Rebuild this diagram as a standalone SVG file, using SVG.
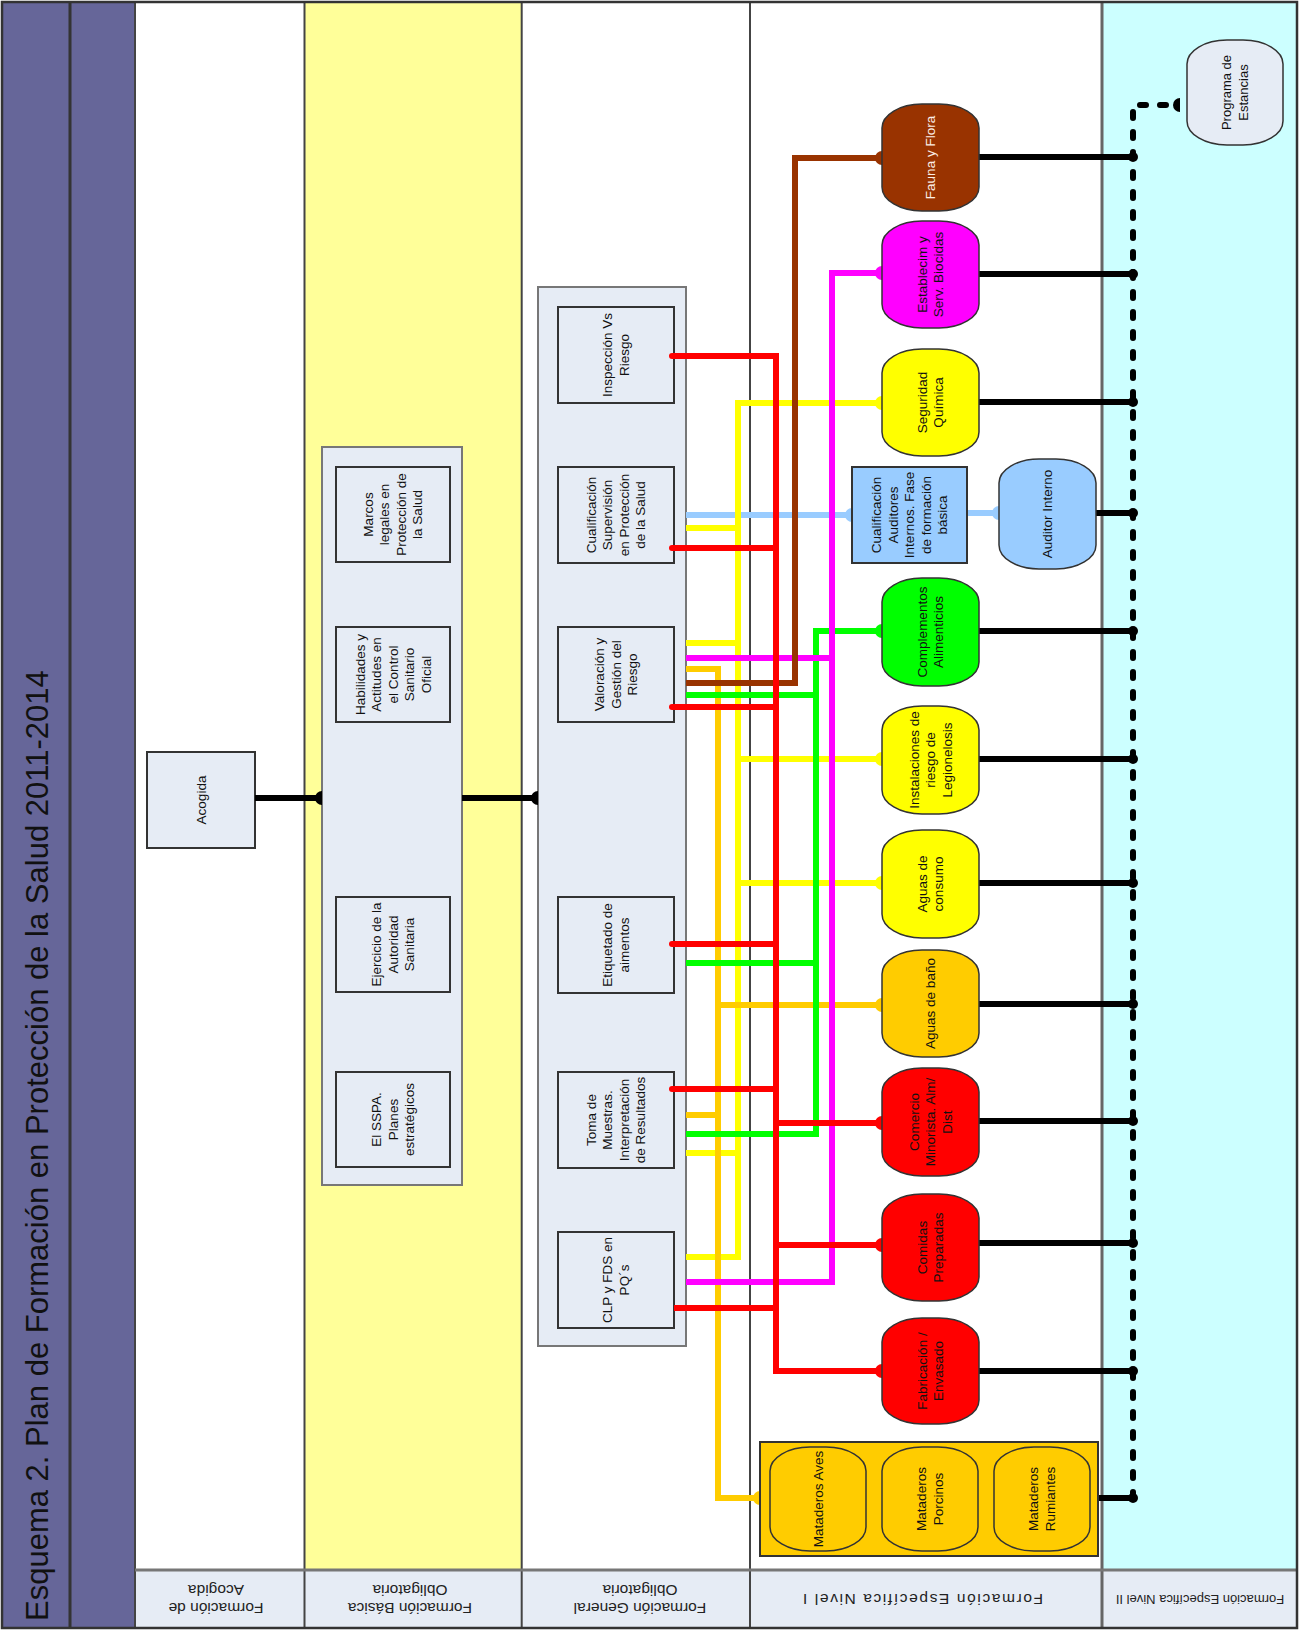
<svg xmlns="http://www.w3.org/2000/svg" width="1299" height="1630" viewBox="0 0 1299 1630">
<style>
text{font-family:"Liberation Sans",Arial,sans-serif;font-size:13.5px;fill:#111;text-anchor:middle}
.hdr{font-size:15.5px;fill:#222}
.box{fill:#E6ECF5;stroke:#333;stroke-width:2}
.cont{fill:#E6ECF5;stroke:#777;stroke-width:2}
.node{stroke:#333;stroke-width:1.5}
.c{fill:none;stroke-width:6;stroke-linejoin:miter}
.k{stroke:#000}.r{stroke:#f00}.y{stroke:#ff0}.o{stroke:#fc0}.g{stroke:#0f0}.m{stroke:#f0f}.b{stroke:#930}.lb{stroke:#9cf}
.dash{stroke-dasharray:6 14;stroke-linecap:round}
.lane{stroke:#444;stroke-width:2}
</style>
<defs>
<marker id="dk" markerUnits="userSpaceOnUse" markerWidth="16" markerHeight="16" refX="8" refY="8" orient="auto" viewBox="0 0 16 16"><path d="M8,1A7,7 0 0 0 8,15Z" fill="#000"/></marker>
<marker id="dr" markerUnits="userSpaceOnUse" markerWidth="16" markerHeight="16" refX="8" refY="8" orient="auto" viewBox="0 0 16 16"><path d="M8,1A7,7 0 0 0 8,15Z" fill="#f00"/></marker>
<marker id="dy" markerUnits="userSpaceOnUse" markerWidth="16" markerHeight="16" refX="8" refY="8" orient="auto" viewBox="0 0 16 16"><path d="M8,1A7,7 0 0 0 8,15Z" fill="#ff0"/></marker>
<marker id="do" markerUnits="userSpaceOnUse" markerWidth="16" markerHeight="16" refX="8" refY="8" orient="auto" viewBox="0 0 16 16"><path d="M8,1A7,7 0 0 0 8,15Z" fill="#fc0"/></marker>
<marker id="dg" markerUnits="userSpaceOnUse" markerWidth="16" markerHeight="16" refX="8" refY="8" orient="auto" viewBox="0 0 16 16"><path d="M8,1A7,7 0 0 0 8,15Z" fill="#0f0"/></marker>
<marker id="dm" markerUnits="userSpaceOnUse" markerWidth="16" markerHeight="16" refX="8" refY="8" orient="auto" viewBox="0 0 16 16"><path d="M8,1A7,7 0 0 0 8,15Z" fill="#f0f"/></marker>
<marker id="db" markerUnits="userSpaceOnUse" markerWidth="16" markerHeight="16" refX="8" refY="8" orient="auto" viewBox="0 0 16 16"><path d="M8,1A7,7 0 0 0 8,15Z" fill="#930"/></marker>
<marker id="dl" markerUnits="userSpaceOnUse" markerWidth="16" markerHeight="16" refX="8" refY="8" orient="auto" viewBox="0 0 16 16"><path d="M8,1A7,7 0 0 0 8,15Z" fill="#9cf"/></marker>
<marker id="kd" markerUnits="userSpaceOnUse" markerWidth="12" markerHeight="12" refX="6" refY="6" orient="auto" viewBox="0 0 12 12"><circle cx="6" cy="6" r="5" fill="#000"/></marker>
</defs>

<!-- background and lanes -->
<rect x="0" y="0" width="1299" height="1630" fill="#fff"/>
<rect x="3" y="3" width="132" height="1625" fill="#666699"/>
<rect x="304.5" y="3" width="217.2" height="1567" fill="#FFFF99"/>
<rect x="1102" y="3" width="195" height="1567" fill="#CCFFFF"/>
<rect x="135" y="1570" width="1162" height="58" fill="#E6ECF5"/>
<line class="lane" x1="70" y1="3" x2="70" y2="1628" style="stroke-width:3;stroke:#333"/>
<line class="lane" x1="135" y1="3" x2="135" y2="1628"/>
<line class="lane" x1="304.5" y1="3" x2="304.5" y2="1628"/>
<line class="lane" x1="521.7" y1="3" x2="521.7" y2="1628"/>
<line class="lane" x1="750" y1="3" x2="750" y2="1628"/>
<line class="lane" x1="1102" y1="3" x2="1102" y2="1628" style="stroke:#666;stroke-width:3"/>
<line class="lane" x1="135" y1="1570" x2="1297" y2="1570" style="stroke:#777;stroke-width:3"/>
<rect x="2" y="2" width="1295" height="1626" fill="none" stroke="#333" stroke-width="2.5"/>

<text transform="translate(48,1621) rotate(-90)" style="font-size:31px;text-anchor:start;fill:#111">Esquema 2. Plan de Formación en Protección de la Salud 2011-2014</text>

<!-- lane headers (upside down) -->
<text class="hdr" transform="translate(216,1599) rotate(180)"><tspan x="0" y="-4">Formación de</tspan><tspan x="0" y="14">Acogida</tspan></text>
<text class="hdr" transform="translate(410,1599) rotate(180)"><tspan x="0" y="-4">Formación Básica</tspan><tspan x="0" y="14">Obligatoria</tspan></text>
<text class="hdr" transform="translate(640,1599) rotate(180)"><tspan x="0" y="-4">Formación General</tspan><tspan x="0" y="14">Obligatoria</tspan></text>
<text class="hdr" transform="translate(923,1599) rotate(180)"><tspan x="0" y="5" textLength="240" lengthAdjust="spacing">Formación Específica Nivel I</tspan></text>
<text class="hdr" transform="translate(1200,1599) rotate(180)" style="font-size:13px"><tspan x="0" y="4">Formación Específica Nivel II</tspan></text>

<!-- Acogida -->
<g id="acogida"><rect class="box" x="147" y="752" width="108" height="96"/><text transform="translate(201,800) rotate(-90)"><tspan x="0" y="4.7">Acogida</tspan></text></g>

<!-- Formación Básica -->
<g id="basica"><rect class="cont" x="322" y="447" width="140" height="738"/></g>
<g id="marcos"><rect class="box" x="336" y="467" width="114" height="95"/><text transform="translate(393,514.5) rotate(-90)"><tspan x="0" y="-20.05">Marcos</tspan><tspan x="0" y="-3.55">legales en</tspan><tspan x="0" y="12.95">Protección de</tspan><tspan x="0" y="29.45">la Salud</tspan></text></g>
<g id="habilidades"><rect class="box" x="336" y="627" width="114" height="95"/><text transform="translate(393,674.5) rotate(-90)"><tspan x="0" y="-28.3">Habilidades y</tspan><tspan x="0" y="-11.8">Actitudes en</tspan><tspan x="0" y="4.7">el Control</tspan><tspan x="0" y="21.2">Sanitario</tspan><tspan x="0" y="37.7">Oficial</tspan></text></g>
<g id="ejercicio"><rect class="box" x="336" y="897" width="114" height="95"/><text transform="translate(393,944.5) rotate(-90)"><tspan x="0" y="-11.8">Ejercicio de la</tspan><tspan x="0" y="4.7">Autoridad</tspan><tspan x="0" y="21.2">Sanitaria</tspan></text></g>
<g id="sspa"><rect class="box" x="336" y="1072" width="114" height="95"/><text transform="translate(393,1119.5) rotate(-90)"><tspan x="0" y="-11.8">El SSPA.</tspan><tspan x="0" y="4.7">Planes</tspan><tspan x="0" y="21.2">estratégicos</tspan></text></g>

<!-- Formación General -->
<g id="general"><rect class="cont" x="538" y="287" width="148" height="1059"/></g>
<g id="inspeccion"><rect class="box" x="558" y="307" width="116" height="96"/><text transform="translate(616,355) rotate(-90)"><tspan x="0" y="-3.55">Inspección Vs</tspan><tspan x="0" y="12.95">Riesgo</tspan></text></g>
<g id="cualificacion"><rect class="box" x="558" y="467" width="116" height="96"/><text transform="translate(616,515) rotate(-90)"><tspan x="0" y="-20.05">Cualificación</tspan><tspan x="0" y="-3.55">Supervisión</tspan><tspan x="0" y="12.95">en Protección</tspan><tspan x="0" y="29.45">de la Salud</tspan></text></g>
<g id="valoracion"><rect class="box" x="558" y="627" width="116" height="95"/><text transform="translate(616,674.5) rotate(-90)"><tspan x="0" y="-11.8">Valoración y</tspan><tspan x="0" y="4.7">Gestión del</tspan><tspan x="0" y="21.2">Riesgo</tspan></text></g>
<g id="etiquetado"><rect class="box" x="558" y="897" width="116" height="96"/><text transform="translate(616,945) rotate(-90)"><tspan x="0" y="-3.55">Etiquetado de</tspan><tspan x="0" y="12.95">aimentos</tspan></text></g>
<g id="toma"><rect class="box" x="558" y="1072" width="116" height="96"/><text transform="translate(616,1120) rotate(-90)"><tspan x="0" y="-20.05">Toma de</tspan><tspan x="0" y="-3.55">Muestras.</tspan><tspan x="0" y="12.95">Interpretación</tspan><tspan x="0" y="29.45">de Resultados</tspan></text></g>
<g id="clp"><rect class="box" x="558" y="1232" width="116" height="96"/><text transform="translate(616,1280) rotate(-90)"><tspan x="0" y="-3.55">CLP y FDS en</tspan><tspan x="0" y="12.95">PQ´s</tspan></text></g>

<!-- connectors -->
<g id="connectors">
<path class="c k" d="M255,798H322" marker-end="url(#dk)"/>
<path class="c k" d="M462,798H538" marker-end="url(#dk)"/>
<path class="c lb" d="M686,515H852" marker-end="url(#dl)"/>
<path class="c lb" d="M967,513H999" marker-end="url(#dl)"/>
<path class="c y" d="M686,1257H738V403H882" marker-end="url(#dy)"/>
<path class="c y" d="M686,528H738"/>
<path class="c y" d="M686,643H738"/>
<path class="c y" d="M686,1153H738"/>
<path class="c y" d="M738,759H882" marker-end="url(#dy)"/>
<path class="c y" d="M738,883H882" marker-end="url(#dy)"/>
<path class="c o" d="M686,669H718V1498H760" marker-end="url(#do)"/>
<path class="c o" d="M686,1115H718"/>
<path class="c o" d="M718,1005H882" marker-end="url(#do)"/>
<path class="c g" d="M686,1134H816V631H882" marker-end="url(#dg)"/>
<path class="c g" d="M686,695H816"/>
<path class="c g" d="M686,963H816"/>
<path class="c m" d="M686,1282H832V273H882" marker-end="url(#dm)"/>
<path class="c m" d="M686,658H832"/>
<path class="c b" d="M686,683H795V158H882" marker-end="url(#db)"/>
<path class="c r" d="M672,356H776V1371H882" marker-end="url(#dr)" style="stroke-linecap:round"/>
<path class="c r" d="M672,548H776" style="stroke-linecap:round"/>
<path class="c r" d="M672,707H776" style="stroke-linecap:round"/>
<path class="c r" d="M672,944H776" style="stroke-linecap:round"/>
<path class="c r" d="M672,1089H776" style="stroke-linecap:round"/>
<path class="c r" d="M674,1308H776"/>
<path class="c r" d="M776,1123H882" marker-end="url(#dr)"/>
<path class="c r" d="M776,1245H882" marker-end="url(#dr)"/>
<path class="c k dash" d="M1133,1498V105H1180" marker-end="url(#dk)"/>
<path class="c k" d="M979,157H1133" marker-end="url(#kd)"/>
<path class="c k" d="M979,274H1133" marker-end="url(#kd)"/>
<path class="c k" d="M979,402H1133" marker-end="url(#kd)"/>
<path class="c k" d="M1096,513H1133" marker-end="url(#kd)"/>
<path class="c k" d="M979,631H1133" marker-end="url(#kd)"/>
<path class="c k" d="M979,759H1133" marker-end="url(#kd)"/>
<path class="c k" d="M979,883H1133" marker-end="url(#kd)"/>
<path class="c k" d="M979,1004H1133" marker-end="url(#kd)"/>
<path class="c k" d="M979,1121H1133" marker-end="url(#kd)"/>
<path class="c k" d="M979,1243H1133" marker-end="url(#kd)"/>
<path class="c k" d="M979,1371H1133" marker-end="url(#kd)"/>
<path class="c k" d="M1090,1498H1133" marker-end="url(#kd)"/>
</g>

<!-- Nivel I -->
<g id="fauna"><rect class="node" x="882" y="104" width="97" height="107" rx="40" ry="24" fill="#993300"/><text transform="translate(930.5,157.5) rotate(-90)" style="fill:#fbeee6"><tspan x="0" y="4.7">Fauna y Flora</tspan></text></g>
<g id="biocidas"><rect class="node" x="882" y="221" width="97" height="107" rx="40" ry="24" fill="#FF00FF"/><text transform="translate(930.5,274.5) rotate(-90)"><tspan x="0" y="-3.55">Establecim y</tspan><tspan x="0" y="12.95">Serv. Biocidas</tspan></text></g>
<g id="seguridad"><rect class="node" x="882" y="349" width="97" height="107" rx="40" ry="24" fill="#FFFF00"/><text transform="translate(930.5,402.5) rotate(-90)"><tspan x="0" y="-3.55">Seguridad</tspan><tspan x="0" y="12.95">Química</tspan></text></g>
<g id="cualif-auditores"><rect class="box" x="852" y="467" width="115" height="96" style="fill:#99CCFF"/><text transform="translate(909.5,515) rotate(-90)"><tspan x="0" y="-28.3">Cualificación</tspan><tspan x="0" y="-11.8">Auditores</tspan><tspan x="0" y="4.7">Internos. Fase</tspan><tspan x="0" y="21.2">de formación</tspan><tspan x="0" y="37.7">básica</tspan></text></g>
<g id="auditor"><rect class="node" x="999" y="459" width="97" height="110" rx="40" ry="24" fill="#99CCFF"/><text transform="translate(1047.5,514) rotate(-90)"><tspan x="0" y="4.7">Auditor Interno</tspan></text></g>
<g id="complementos"><rect class="node" x="882" y="578" width="97" height="108" rx="40" ry="24" fill="#00FF00"/><text transform="translate(930.5,632) rotate(-90)"><tspan x="0" y="-3.55">Complementos</tspan><tspan x="0" y="12.95">Alimenticios</tspan></text></g>
<g id="legionelosis"><rect class="node" x="882" y="706" width="97" height="108" rx="40" ry="24" fill="#FFFF00"/><text transform="translate(930.5,760) rotate(-90)"><tspan x="0" y="-11.8">Instalaciones de</tspan><tspan x="0" y="4.7">riesgo de</tspan><tspan x="0" y="21.2">Legionelosis</tspan></text></g>
<g id="aguas-consumo"><rect class="node" x="882" y="830" width="97" height="108" rx="40" ry="24" fill="#FFFF00"/><text transform="translate(930.5,884) rotate(-90)"><tspan x="0" y="-3.55">Aguas de</tspan><tspan x="0" y="12.95">consumo</tspan></text></g>
<g id="aguas-bano"><rect class="node" x="882" y="950" width="97" height="107" rx="40" ry="24" fill="#FFCC00"/><text transform="translate(930.5,1003.5) rotate(-90)"><tspan x="0" y="4.7">Aguas de baño</tspan></text></g>
<g id="comercio"><rect class="node" x="882" y="1068" width="97" height="108" rx="40" ry="24" fill="#FF0000"/><text transform="translate(930.5,1122) rotate(-90)"><tspan x="0" y="-11.8">Comercio</tspan><tspan x="0" y="4.7">Minorista. Alm/</tspan><tspan x="0" y="21.2">Dist</tspan></text></g>
<g id="comidas"><rect class="node" x="882" y="1194" width="97" height="107" rx="40" ry="24" fill="#FF0000"/><text transform="translate(930.5,1247.5) rotate(-90)"><tspan x="0" y="-3.55">Comidas</tspan><tspan x="0" y="12.95">Preparadas</tspan></text></g>
<g id="fabricacion"><rect class="node" x="882" y="1318" width="97" height="106" rx="40" ry="24" fill="#FF0000"/><text transform="translate(930.5,1371) rotate(-90)"><tspan x="0" y="-3.55">Fabricación /</tspan><tspan x="0" y="12.95">Envasado</tspan></text></g>
<g id="mataderos"><rect x="760" y="1442" width="338" height="114" fill="#FFCC00" stroke="#333" stroke-width="2"/></g>
<g id="mat-aves"><rect class="node" x="770" y="1447" width="96" height="104" rx="40" ry="24" fill="#FFCC00"/><text transform="translate(818,1499) rotate(-90)"><tspan x="0" y="4.7">Mataderos Aves</tspan></text></g>
<g id="mat-porcinos"><rect class="node" x="882" y="1447" width="96" height="104" rx="40" ry="24" fill="#FFCC00"/><text transform="translate(930,1499) rotate(-90)"><tspan x="0" y="-3.55">Mataderos</tspan><tspan x="0" y="12.95">Porcinos</tspan></text></g>
<g id="mat-rumiantes"><rect class="node" x="994" y="1447" width="96" height="104" rx="40" ry="24" fill="#FFCC00"/><text transform="translate(1042,1499) rotate(-90)"><tspan x="0" y="-3.55">Mataderos</tspan><tspan x="0" y="12.95">Rumiantes</tspan></text></g>

<!-- Nivel II -->
<g id="estancias"><rect class="node" x="1187" y="40" width="96" height="105" rx="40" ry="24" fill="#E6ECF5"/><text transform="translate(1235,92.5) rotate(-90)" style="font-size:13px"><tspan x="0" y="-4">Programa de</tspan><tspan x="0" y="13">Estancias</tspan></text></g>
</svg>
